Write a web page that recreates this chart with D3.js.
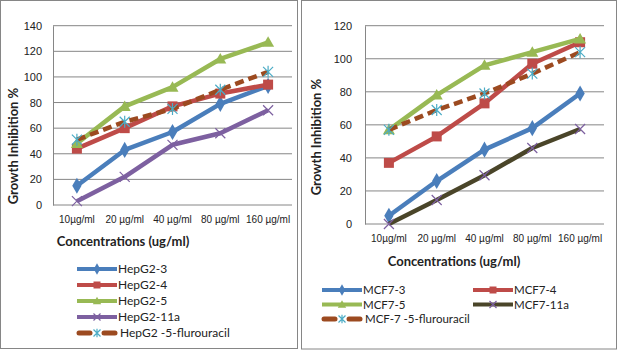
<!doctype html>
<html lang="en">
<head>
<meta charset="utf-8">
<script src="https://cdn.jsdelivr.net/npm/d3@7"></script>
<style>
    body { margin: 0; background: #fff; }
    svg { font-family: Lato, "Open Sans", sans-serif; }
</style>
</head>
<body>
<svg id="chart" width="618" height="352"></svg>
<script>
    // data
    var categories = ["10\u00b5g/ml", "20 \u00b5g/ml", "40 \u00b5g/ml", "80 \u00b5g/ml", "160 \u00b5g/ml"];

    var hepNames = ["HepG2-3", "HepG2-4", "HepG2-5", "HepG2-11a", "HepG2 -5-flurouracil"];
    var hep3 = [15, 43, 57, 79, 93];
    var hep4 = [44, 60, 77, 87, 94];
    var hep5 = [48, 77, 92, 114, 127];
    var hep11a = [3, 22, 47, 56, 74];
    var hepFU = [51, 65, 75, 90, 104];
    var hepTicks = [0, 20, 40, 60, 80, 100, 120, 140];

    var mcfNames = ["MCF7-3", "MCF7-4", "MCF7-5", "MCF7-11a", "MCF-7 -5-flurouracil"];
    var mcf3 = [5, 26, 45, 58, 79];
    var mcf4 = [37, 53, 73, 97, 110];
    var mcf5 = [57, 78, 96, 104, 112];
    var mcf11a = [0, 14.5, 29.5, 46, 57.5];
    var mcfFU = [57, 69, 79, 91, 104];
    var mcfTicks = [0, 20, 40, 60, 80, 100, 120];

    var grey = "#868686";
    var svg = d3.select("#chart");

    // series styles: line colour, marker, marker colour, dashed
    var styles = [
        {color: "#4a7ebb", marker: "diamond", mcolor: "#4a7ebb"},
        {color: "#be4b48", marker: "square", mcolor: "#be4b48"},
        {color: "#98b954", marker: "triangle", mcolor: "#98b954"},
        {color: "#7d60a0", marker: "x", mcolor: "#7d60a0"},
        {color: "#9c4a20", marker: "star", mcolor: "#4bacc6", dash: "9,5"}
    ];

    function drawMarker(g, kind, color, x, y, s) {
        s = s || 1;
        var tr = "translate(" + x + "," + y + ") scale(" + s + ")";
        if (kind === "diamond") {
            g.append("path").attr("d", d3.symbol(d3.symbolDiamond, 75)())
                .attr("transform", tr).attr("fill", color);
        } else if (kind === "square") {
            g.append("path").attr("d", "M-5,-5H5V5H-5Z")
                .attr("transform", tr).attr("fill", color);
        } else if (kind === "triangle") {
            g.append("path").attr("d", "M0,-6L6,4.5L-6,4.5Z")
                .attr("transform", tr).attr("fill", color);
        } else if (kind === "x") {
            g.append("path").attr("d", "M-5,-5L5,5M-5,5L5,-5")
                .attr("transform", tr)
                .attr("stroke", color).attr("stroke-width", 1.2 / s).attr("fill", "none");
        } else if (kind === "star") {
            g.append("path").attr("d", "M-5,-5L5,5M-5,5L5,-5M0,-6L0,6")
                .attr("transform", tr)
                .attr("stroke", color).attr("stroke-width", 1.2 / s).attr("fill", "none");
        }
    }

    function drawPanel(cfg) {
        // panel border
        svg.append("rect")
            .attr("x", cfg.box[0]).attr("y", cfg.box[1])
            .attr("width", cfg.box[2]).attr("height", cfg.box[3])
            .attr("fill", "#fff").attr("stroke", grey).attr("stroke-width", 1);

        var x = d3.scaleBand().domain(categories).range([cfg.left, cfg.right]);
        var y = d3.scaleLinear().domain([0, d3.max(cfg.ticks)]).range([cfg.bottom, cfg.top]);

        var g = svg.append("g");

        // gridlines
        g.selectAll(".grid").data(cfg.ticks).enter().append("line")
            .attr("x1", cfg.left).attr("x2", cfg.right)
            .attr("y1", function(d) { return y(d); }).attr("y2", function(d) { return y(d); })
            .attr("stroke", grey).attr("stroke-width", 1);

        // y axis
        var yAxis = d3.axisLeft(y).tickValues(cfg.ticks).tickSize(0).tickPadding(cfg.tickPad);
        var ya = g.append("g").attr("transform", "translate(" + cfg.left + ",0)").call(yAxis);
        ya.select(".domain").attr("stroke", grey);
        ya.selectAll("text").attr("font-size", "11px").attr("fill", "#222");

        // x axis labels
        var xAxis = d3.axisBottom(x).tickSize(0).tickPadding(11);
        var xa = g.append("g").attr("transform", "translate(0," + cfg.bottom + ")").call(xAxis);
        xa.select(".domain").remove();
        xa.selectAll("text").attr("font-size", "10px").attr("fill", "#222");

        // axis titles
        g.append("text").attr("x", cfg.xTitle[0]).attr("y", cfg.xTitle[1])
            .attr("text-anchor", "middle").attr("font-size", "13px").attr("font-weight", "bold")
            .attr("fill", "#222").text("Concentrations (ug/ml)");
        g.append("text")
            .attr("transform", "translate(" + cfg.yTitle[0] + "," + cfg.yTitle[1] + ") rotate(-90)")
            .attr("text-anchor", "middle").attr("font-size", "13px").attr("font-weight", "bold")
            .attr("fill", "#222").text("Growth Inhibition %");

        var line = d3.line()
            .x(function(d, i) { return x(categories[i]) + x.bandwidth() / 2; })
            .y(function(d) { return y(d); });

        cfg.series.forEach(function(vals, i) {
            var st = cfg.styles[i];
            var sg = g.append("g");
            sg.append("path").attr("d", line(vals))
                .attr("fill", "none").attr("stroke", st.color).attr("stroke-width", 4.5)
                .attr("stroke-linejoin", "round")
                .attr("stroke-dasharray", st.dash || null);
            vals.forEach(function(v, j) {
                drawMarker(sg, st.marker, st.mcolor, x(categories[j]) + x.bandwidth() / 2, y(v));
            });
        });

        // legend
        cfg.names.forEach(function(name, i) {
            var st = cfg.styles[i];
            var p = cfg.legendPos[i];
            var lg = svg.append("g");
            if (st.dash) {
                lg.append("line").attr("x1", p[0] + 2).attr("x2", p[0] + 13).attr("y1", p[1]).attr("y2", p[1])
                    .attr("stroke", st.color).attr("stroke-width", 5).attr("stroke-linecap", "round");
                lg.append("line").attr("x1", p[0] + 27).attr("x2", p[0] + 38).attr("y1", p[1]).attr("y2", p[1])
                    .attr("stroke", st.color).attr("stroke-width", 5).attr("stroke-linecap", "round");
            } else {
                lg.append("line").attr("x1", p[0]).attr("x2", p[0] + 40).attr("y1", p[1]).attr("y2", p[1])
                    .attr("stroke", st.color).attr("stroke-width", 4);
            }
            drawMarker(lg, st.marker, st.mcolor, p[0] + 20, p[1], 0.7);
            lg.append("text").attr("x", p[0] + 41 + (st.dash ? 2 : 0)).attr("y", p[1] + 4)
                .attr("font-size", cfg.legendFont).attr("fill", "#222").text(name);
        });
    }

    drawPanel({
        box: [0.5, 0.5, 297, 348],
        left: 53, right: 292, top: 25.7, bottom: 205,
        ticks: hepTicks, tickPad: 11,
        series: [hep3, hep4, hep5, hep11a, hepFU],
        names: hepNames, styles: styles,
        xTitle: [123, 246], yTitle: [18, 146],
        legendFont: "12px",
        legendPos: [[77, 269], [77, 285], [77, 301], [77, 317], [77, 333]]
    });

    var mcfStyles = styles.slice();
    mcfStyles[3] = {color: "#4a4529", marker: "x", mcolor: "#7d60a0"};

    drawPanel({
        box: [301.5, 0.5, 315, 348.5],
        left: 365, right: 604, top: 25.7, bottom: 224,
        ticks: mcfTicks, tickPad: 13,
        series: [mcf3, mcf4, mcf5, mcf11a, mcfFU],
        names: mcfNames, styles: mcfStyles,
        xTitle: [454, 266], yTitle: [321, 137],
        legendFont: "11.5px",
        legendPos: [[322, 290], [473, 290], [322, 304.5], [473, 304.5], [322, 319]]
    });
</script>
</body>
</html>
